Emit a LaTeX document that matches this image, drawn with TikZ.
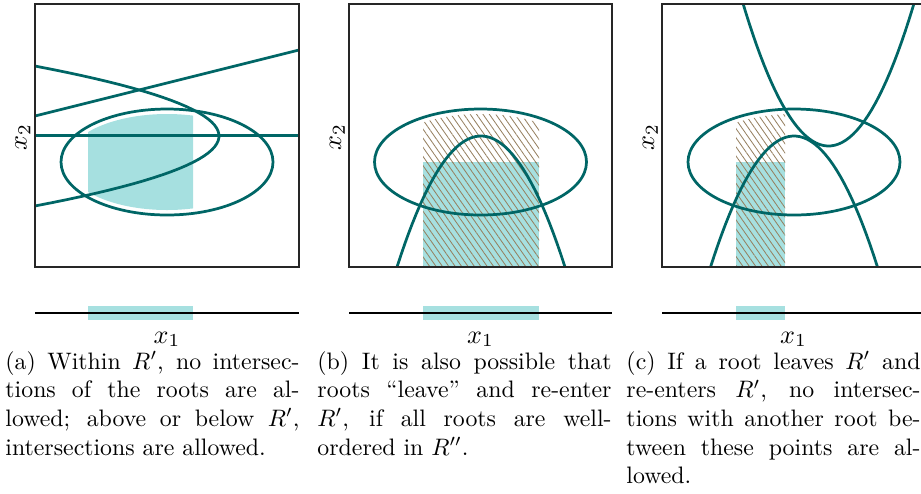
\documentclass[tikz,border=0pt]{standalone}
\usetikzlibrary{patterns.meta}
\definecolor{rootc}{RGB}{0,102,102}
\definecolor{regc}{RGB}{166,224,224}
\definecolor{hatchc}{RGB}{150,128,96}
\begin{document}
\begin{tikzpicture}[x=0.42pt,y=-0.42pt,
  root/.style={draw=rootc,line width=1.15pt},
  frame/.style={draw=black!85,line width=0.45pt},
  axisline/.style={draw=black,line width=0.45pt},
  hatch/.style={pattern={Lines[angle=-55,distance=2.2pt,line width=0.35pt]},pattern color=hatchc},
  captxt/.style={text width=123.5pt,align=justify,inner sep=0pt,anchor=north west,font=\normalsize},
  lab/.style={inner sep=0pt,scale=1.1}]
\useasboundingbox (0,0) rectangle (921,493);

% ---------------- panel (a) ----------------
\begin{scope}
  \clip (88,0) rectangle (193,300);
  \fill[regc] (167,162) ellipse [x radius=101,y radius=48];
\end{scope}
\begin{scope}
  \clip (35,4) rectangle (299,267);
  \draw[root] (167,162) ellipse [x radius=106,y radius=53];
  \draw[root] (35,135.7) -- (299,135.7);
  \draw[root] (35,116) -- (299,50);
  \draw[root] plot[domain=60:212,samples=50] ({219-0.0376*(\x-136)*(\x-136)},\x);
\end{scope}
\draw[frame] (35,4) rectangle (299,267);
\fill[regc] (88,306) rectangle (193,320);
\draw[axisline] (35,313) -- (299,313);
\node[lab,rotate=90,anchor=base] (x2a) at (26.5,137.5) {$x_2$};
\node[lab,anchor=base] (x1a) at (167,343) {$x_1$};
\node[captxt] (capa) at (5,351) {\noindent(a) Within $R'$, no intersec-\linebreak tions of the roots are al-\linebreak lowed; above or below $R'$,\linebreak intersections are allowed.};

% ---------------- panel (b) ----------------
\fill[regc] (423,162) rectangle (539,267);
\begin{scope}
  \clip (423,0) rectangle (539,162);
  \fill[hatch] (480.5,162) ellipse [x radius=101,y radius=48];
\end{scope}
\fill[hatch] (423,162) rectangle (539,267);
\begin{scope}
  \clip (349,4) rectangle (612,267);
  \draw[root] (480.5,162) ellipse [x radius=106,y radius=53];
  \draw[root] plot[domain=390:572,samples=50] (\x,{136+0.01857*(\x-481)*(\x-481)});
\end{scope}
\draw[frame] (349,4) rectangle (612,267);
\fill[regc] (423,306) rectangle (539,320);
\draw[axisline] (349,313) -- (612,313);
\node[lab,rotate=90,anchor=base] (x2b) at (341,137.5) {$x_2$};
\node[lab,anchor=base] (x1b) at (480.5,343) {$x_1$};
\node[captxt] (capb) at (317,351) {\noindent(b) It is also possible that\linebreak roots “leave” and re-enter\linebreak $R'$, if all roots are well-\linebreak ordered in $R''$.};

% ---------------- panel (c) ----------------
\fill[regc] (736,162) rectangle (785,267);
\begin{scope}
  \clip (736,0) rectangle (785,162);
  \fill[hatch] (794,162) ellipse [x radius=101,y radius=48];
\end{scope}
\fill[hatch] (736,162) rectangle (785,267);
\begin{scope}
  \clip (662,4) rectangle (925,267);
  \draw[root] (794,162) ellipse [x radius=106,y radius=53];
  \draw[root] plot[domain=703:885,samples=50] (\x,{136+0.0188*(\x-794)*(\x-794)});
  \draw[root] plot[domain=738:920,samples=50] (\x,{146-0.0195*(\x-828.5)*(\x-828.5)});
\end{scope}
\draw[frame] (662,4) rectangle (925,267);
\fill[regc] (736,306) rectangle (785,320);
\draw[axisline] (662,313) -- (925,313);
\node[lab,rotate=90,anchor=base] (x2c) at (654,137.5) {$x_2$};
\node[lab,anchor=base] (x1c) at (793.5,343) {$x_1$};
\node[captxt] (capc) at (626,351) {\noindent(c) If a root leaves $R'$ and\linebreak re-enters $R'$, no intersec-\linebreak tions with another root be-\linebreak tween these points are al-\linebreak lowed.};
\end{tikzpicture}
\end{document}
